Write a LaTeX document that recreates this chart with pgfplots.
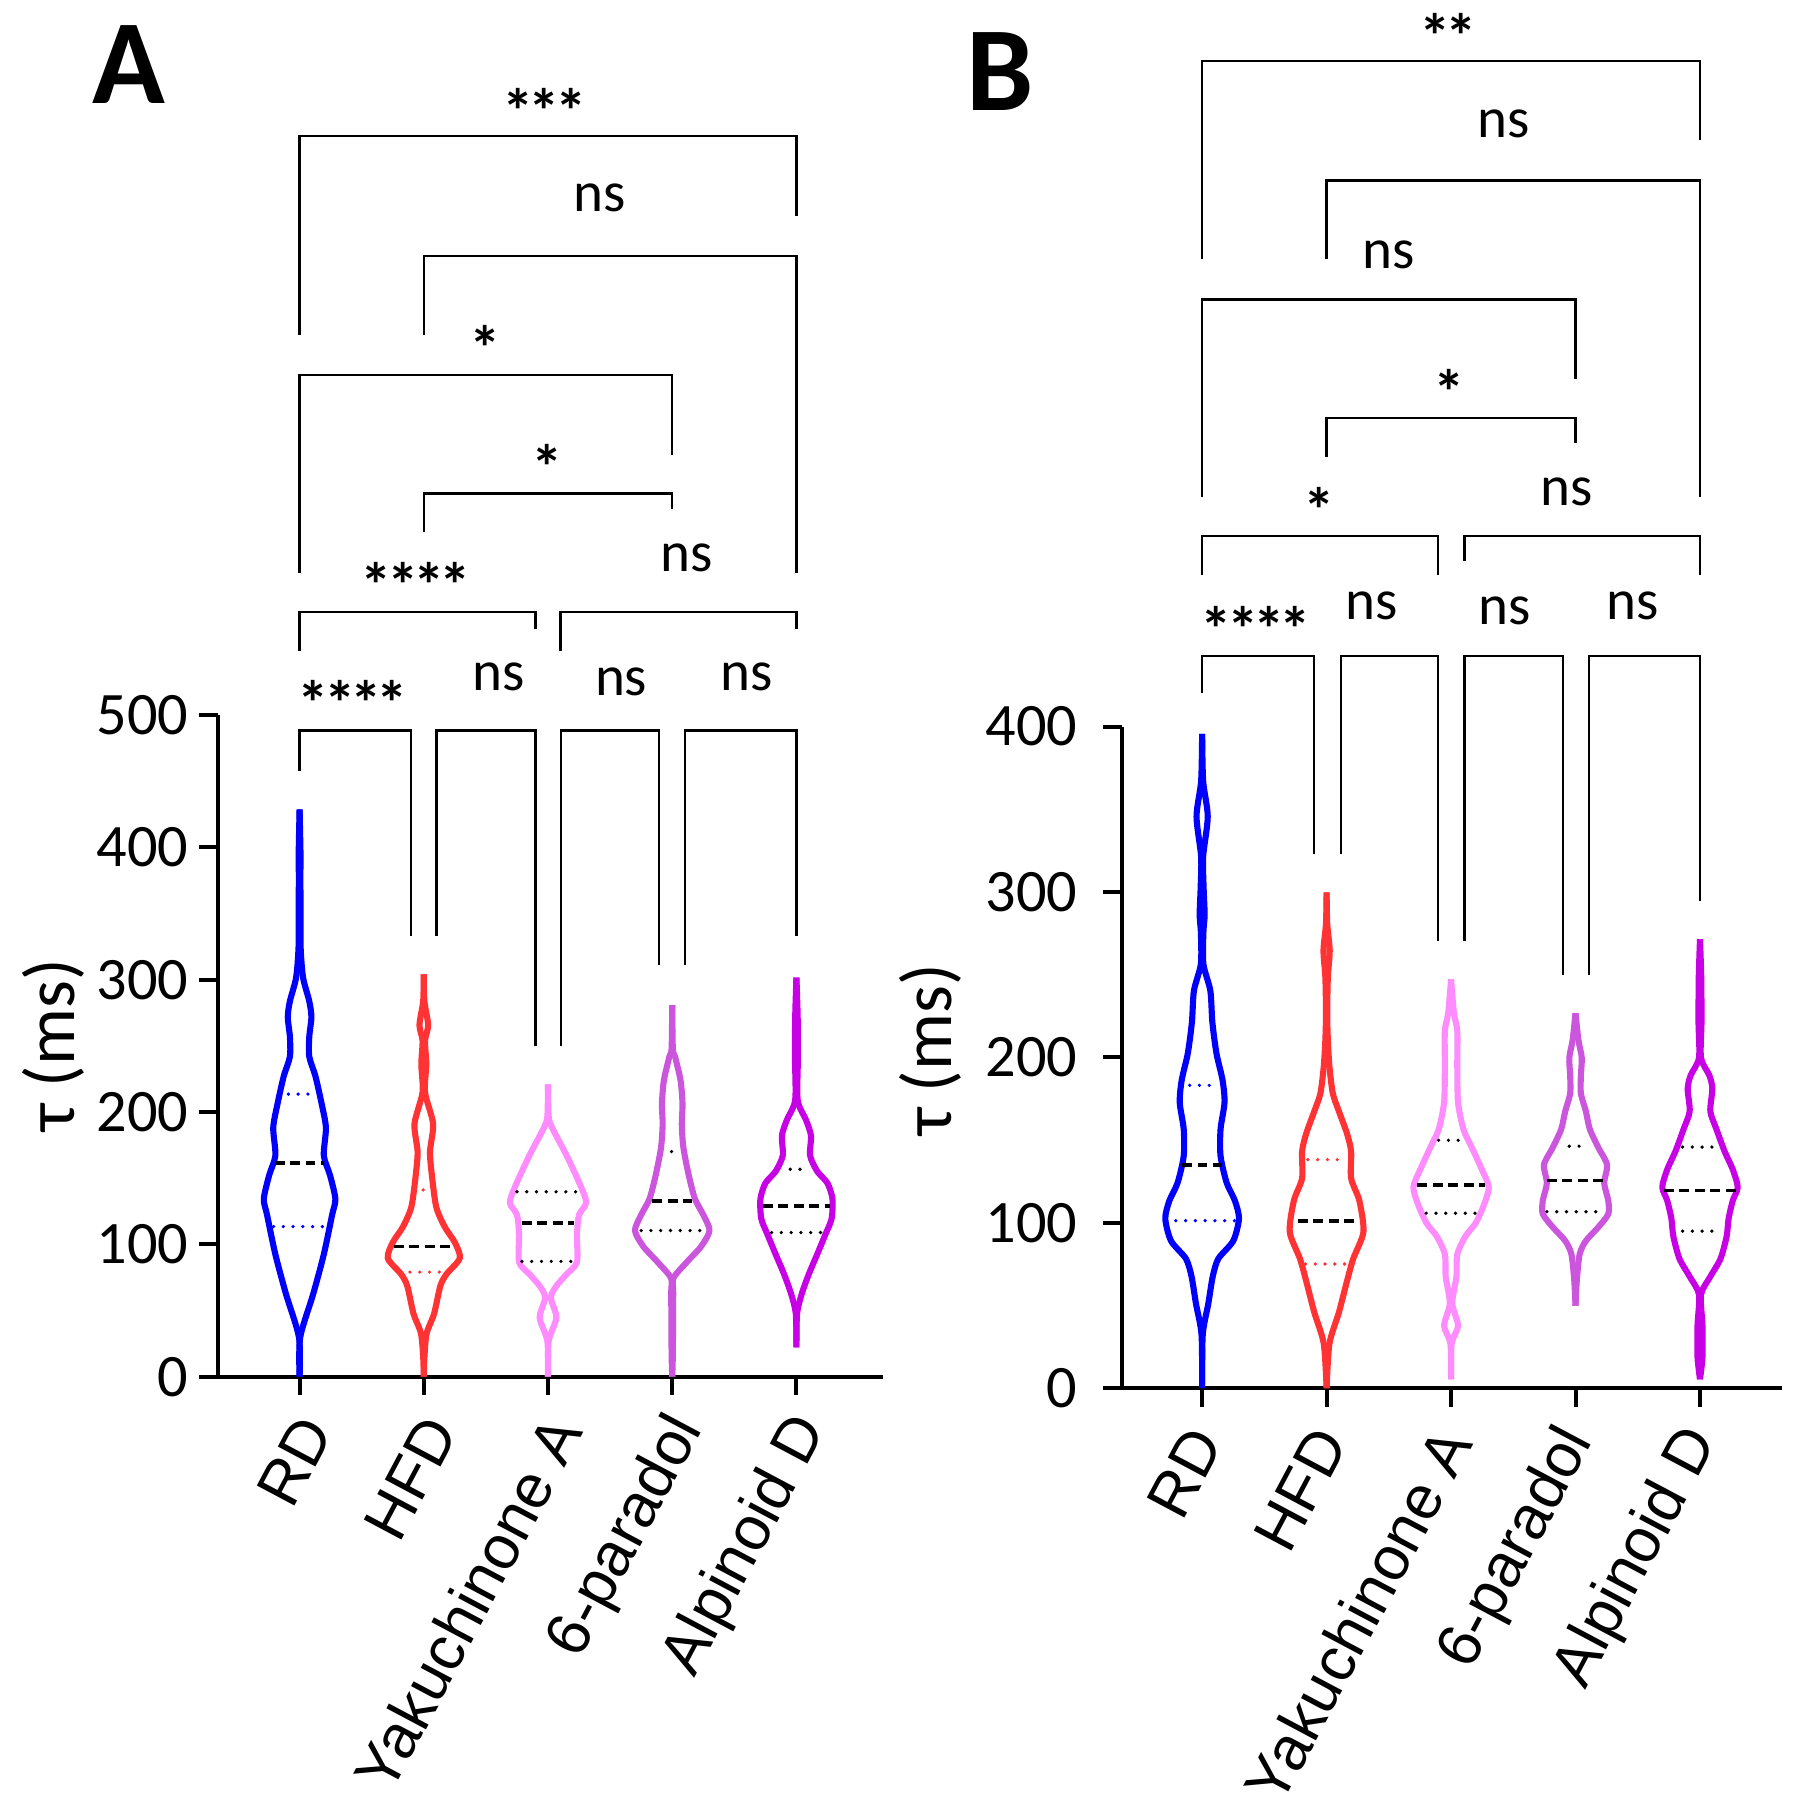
\documentclass[border=0pt]{standalone}
\usepackage{fontspec}
\setmainfont{Carlito}
\newfontfamily\arial{Liberation Sans}
\usepackage{pgfplots}
\usepackage{pgfplotstable}
\pgfplotsset{compat=1.18}
\definecolor{cRD}{RGB}{0,0,255}
\definecolor{cHFD}{RGB}{255,51,51}
\definecolor{cYak}{RGB}{255,140,255}
\definecolor{cPar}{RGB}{204,85,221}
\definecolor{cAlp}{RGB}{200,0,230}

% ---------- Panel A violins (y, half-width) ----------
\pgfplotstableread{
y w
0 0
29.7 0.005
62.6 0.11
92.4 0.195
122.3 0.262
134.3 0.288
152.2 0.245
167.1 0.195
188.1 0.212
206.0 0.178
226.9 0.128
241.8 0.078
256.8 0.078
271.7 0.095
283.7 0.078
301.6 0.028
325.5 0.008
361.4 0.008
376.3 0.005
391.2 0.008
428.6 0
}\RDA
\pgfplotstableread{
y w
0 0
14.8 0.005
32.7 0.023
47.6 0.083
68.5 0.133
77.5 0.183
89.5 0.29
101.4 0.25
113.4 0.167
128.3 0.10
152.2 0.065
170.1 0.05
191.0 0.075
214.9 0.01
235.9 0.02
253.8 0.01
265.7 0.035
283.7 0.005
304.0 0
}\HFDA
\pgfplotstableread{
y w
0 0
26.7 0.005
44.6 0.067
59.6 0.023
68.5 0.067
77.5 0.15
86.5 0.233
107.4 0.233
122.3 0.25
131.3 0.307
143.2 0.267
167.1 0.15
188.1 0.033
197.0 0.005
220.9 0
}\YakA
\pgfplotstableread{
y w
0 0
17.7 0.005
62.6 0.008
74.5 0.01
86.5 0.117
98.4 0.233
110.4 0.3
122.3 0.25
134.3 0.183
152.2 0.133
173.1 0.09
191.0 0.077
206.0 0.083
223.9 0.067
241.8 0.023
247.8 0.005
280.7 0
}\ParA
\pgfplotstableread{
y w
22.2 0
47.6 0.005
62.6 0.043
77.5 0.1
92.4 0.167
107.4 0.233
119.3 0.283
134.3 0.29
146.2 0.25
155.2 0.167
167.1 0.11
182.1 0.117
194.0 0.077
209.0 0.01
241.8 0.012
271.7 0.01
301.6 0
}\AlpA
% ---------- Panel B violins ----------
\pgfplotstableread{
y w
0 0
32.4 0.005
51.3 0.05
67.5 0.085
78.3 0.13
89.1 0.25
102.6 0.296
113.4 0.263
124.2 0.197
140.4 0.148
156.6 0.148
172.8 0.18
186.3 0.164
202.5 0.115
221.4 0.082
240.3 0.066
256.5 0.01
275.4 0.01
286.2 0.02
302.4 0.012
321.3 0.008
345.6 0.045
367.2 0.008
395.6 0
}\RDB
\pgfplotstableread{
y w
0 0
27.0 0.023
45.9 0.099
64.8 0.164
78.3 0.214
94.5 0.296
113.4 0.263
126.9 0.197
143.1 0.197
153.9 0.164
167.4 0.099
178.2 0.05
194.4 0.023
210.6 0.01
226.8 0.005
248.4 0.01
264.6 0.025
280.8 0.005
299.7 0
}\HFDB
\pgfplotstableread{
y w
5.4 0
27.0 0.005
37.8 0.056
51.3 0.01
67.5 0.043
81.0 0.05
91.8 0.115
99.9 0.198
110.7 0.263
121.5 0.303
132.3 0.247
145.8 0.165
156.6 0.099
172.8 0.056
194.4 0.05
216.0 0.05
226.8 0.023
247.2 0
}\YakB
\pgfplotstableread{
y w
49.9 0
64.8 0.01
81.0 0.033
89.1 0.083
97.2 0.181
105.3 0.263
113.4 0.263
124.2 0.23
135.0 0.254
145.8 0.181
156.6 0.115
167.4 0.083
178.2 0.043
189.0 0.043
199.8 0.05
210.6 0.023
226.8 0
}\ParB
\pgfplotstableread{
y w
5.4 0
18.9 0.02
37.8 0.02
56.7 0.008
67.5 0.083
78.3 0.165
91.8 0.214
102.6 0.23
113.4 0.263
121.5 0.303
132.3 0.263
143.1 0.198
156.6 0.132
167.4 0.083
180.9 0.099
189.0 0.076
199.8 0.008
221.4 0.012
248.4 0.01
271.4 0
}\AlpB

\newcommand{\violin}[3]{%
  \addplot[vio,#3] table[x expr=#1+\thisrow{w}, y=y]{#2};
  \addplot[vio,#3] table[x expr=#1-\thisrow{w}, y=y]{#2};
}
\newcommand{\labfont}{\fontsize{14}{16}\selectfont}
\newcommand{\sk}{\kern-0.08em}

\tikzset{lab/.style={font=\labfont, inner sep=0pt},
         ast/.style={font=\fontsize{15.5}{16}\selectfont\bfseries, inner sep=0pt}}
\pgfplotsset{
  vio/.style={line width=1.5pt, smooth, tension=0.45, line join=round, no markers},
  br/.style={black, line width=0.55pt, sharp plot, line join=miter, no markers},
  med/.style={black, line width=0.9pt, dash pattern=on 2.4pt off 1.4pt, no markers},
  qrt/.style={line width=0.9pt, line cap=round, dash pattern=on 0pt off 2.4pt, no markers},
  panel/.style={
    scale only axis, anchor=south west,
    ymin=0,
    axis x line*=bottom, axis y line*=left,
    axis line style={line width=1pt, -},
    xtick={0,1,2,3,4},
    xticklabels={RD,HFD,Yakuchinone A,6-paradol,Alpinoid D},
    tick align=outside, major tick length=0.16cm,
    tick style={line width=1pt, black},
    /pgf/number format/assume math mode=true,
    clip=false,
  },
}

\begin{document}
\begin{tikzpicture}
% ================= Panel A =================
\begin{axis}[panel,
  at={(1.88cm,3.80cm)}, width=5.74cm, height=5.71cm,
  xmin=-0.658, xmax=4.697, ymax=500, ytick={0,100,...,500},
  xticklabel style={font=\arial\fontsize{15.2}{16}\selectfont, xshift=0.2cm, yshift=-0.12cm, rotate=62, anchor=east},
  yticklabel style={font=\fontsize{14.8}{16}\selectfont, xshift=0.03cm}]
\violin{0}{\RDA}{cRD}
\violin{1}{\HFDA}{cHFD}
\violin{2}{\YakA}{cYak}
\violin{3}{\ParA}{cPar}
\violin{4}{\AlpA}{cAlp}
% quartiles
\addplot[med] coordinates {(-0.2,161.2) (0.2,161.2)};
\addplot[qrt,cRD] coordinates {(-0.09,213.5) (0.09,213.5)};
\addplot[qrt,cRD] coordinates {(-0.21,113.4) (0.21,113.4)};
\addplot[med] coordinates {(0.76,98.4) (1.24,98.4)};
\addplot[qrt,cHFD] coordinates {(0.81,79.0) (1.19,79.0)};
\addplot[qrt,cHFD] coordinates {(0.995,141.1) (1.005,141.1)};
\addplot[med] coordinates {(1.79,116.3) (2.21,116.3)};
\addplot[qrt,black] coordinates {(1.75,139.7) (2.25,139.7)};
\addplot[qrt,black] coordinates {(1.79,87.1) (2.21,87.1)};
\addplot[med] coordinates {(2.84,132.8) (3.16,132.8)};
\addplot[qrt,black] coordinates {(2.75,110.4) (3.25,110.4)};
\addplot[qrt,black] coordinates {(2.995,170.1) (3.005,170.1)};
\addplot[med] coordinates {(3.73,128.9) (4.27,128.9)};
\addplot[qrt,black] coordinates {(3.8,108.9) (4.2,108.9)};
\addplot[qrt,black] coordinates {(3.95,156.7) (4.05,156.7)};
% brackets
\addplot[br] coordinates {(0,458) (0,488.2) (0.9,488.2) (0.9,333)};
\addplot[br] coordinates {(1.103,333) (1.103,488.2) (1.9,488.2) (1.9,250)};
\addplot[br] coordinates {(2.103,250) (2.103,488.2) (2.895,488.2) (2.895,311)};
\addplot[br] coordinates {(3.1,311) (3.1,488.2) (4,488.2) (4,333)};
\addplot[br] coordinates {(0,548.4) (0,578) (1.9,578) (1.9,565)};
\addplot[br] coordinates {(2.1,548.4) (2.1,578) (4,578) (4,565)};
\addplot[br] coordinates {(1,637.9) (1,667.3) (3,667.3) (3,655.9)};
\addplot[br] coordinates {(0,607.4) (0,756.9) (3,756.9) (3,696.8)};
\addplot[br] coordinates {(1,787.3) (1,847.1) (4,847.1) (4,607.4)};
\addplot[br] coordinates {(0,787.3) (0,937.4) (4,937.4) (4,877.3)};
% labels
\node[ast] at (axis cs:1.973,956.3) {*\sk*\sk*};
\node[lab] at (axis cs:2.417,890.6) {ns};
\node[ast] at (axis cs:1.493,777.6) {*};
\node[ast] at (axis cs:1.992,687.4) {*};
\node[ast] at (axis cs:0.9375,598.1) {*\sk*\sk*\sk*};
\node[lab] at (axis cs:3.118,618.8) {ns};
\node[ast] at (axis cs:0.430,508.8) {*\sk*\sk*\sk*};
\node[lab] at (axis cs:1.600,528.9) {ns};
\node[lab] at (axis cs:2.589,525.0) {ns};
\node[lab] at (axis cs:3.596,528.9) {ns};
\end{axis}
% ================= Panel B =================
\begin{axis}[panel,
  at={(9.68cm,3.70cm)}, width=5.70cm, height=5.71cm,
  xmin=-0.646, xmax=4.661, ymax=400, ytick={0,100,...,400},
  xticklabel style={font=\arial\fontsize{15.2}{16}\selectfont, xshift=0.09cm, yshift=-0.12cm, rotate=62, anchor=east},
  yticklabel style={font=\fontsize{14.8}{16}\selectfont, xshift=-0.1cm}]
\violin{0}{\RDB}{cRD}
\violin{1}{\HFDB}{cHFD}
\violin{2}{\YakB}{cYak}
\violin{3}{\ParB}{cPar}
\violin{4}{\AlpB}{cAlp}
% quartiles
\addplot[med] coordinates {(-0.16,135.0) (0.16,135.0)};
\addplot[qrt,cRD] coordinates {(-0.1,183.1) (0.1,183.1)};
\addplot[qrt,cRD] coordinates {(-0.29,101.3) (0.29,101.3)};
\addplot[med] coordinates {(0.77,101.3) (1.23,101.3)};
\addplot[qrt,cHFD] coordinates {(0.85,138.2) (1.15,138.2)};
\addplot[qrt,cHFD] coordinates {(0.83,75.1) (1.17,75.1)};
\addplot[med] coordinates {(1.73,122.9) (2.27,122.9)};
\addplot[qrt,black] coordinates {(1.9,149.9) (2.1,149.9)};
\addplot[qrt,black] coordinates {(1.8,105.8) (2.2,105.8)};
\addplot[med] coordinates {(2.77,125.6) (3.23,125.6)};
\addplot[qrt,black] coordinates {(2.95,146.3) (3.05,146.3)};
\addplot[qrt,black] coordinates {(2.77,106.7) (3.23,106.7)};
\addplot[med] coordinates {(3.71,119.6) (4.29,119.6)};
\addplot[qrt,black] coordinates {(3.86,145.8) (4.14,145.8)};
\addplot[qrt,black] coordinates {(3.86,95.0) (4.14,95.0)};
% brackets
\addplot[br] coordinates {(0,420) (0,442.8) (0.898,442.8) (0.898,323.1)};
\addplot[br] coordinates {(1.116,323.1) (1.116,442.8) (1.898,442.8) (1.898,270.5)};
\addplot[br] coordinates {(2.107,270.5) (2.107,442.8) (2.898,442.8) (2.898,250)};
\addplot[br] coordinates {(3.106,250) (3.106,442.8) (4,442.8) (4,294.6)};
\addplot[br] coordinates {(0,491.8) (0,515) (1.898,515) (1.898,491.8)};
\addplot[br] coordinates {(2.107,500) (2.107,515) (4,515) (4,491.8)};
\addplot[br] coordinates {(1,563) (1,586.6) (3,586.6) (3,571.3)};
\addplot[br] coordinates {(0,538.9) (0,658.2) (3,658.2) (3,610.2)};
\addplot[br] coordinates {(1,682.4) (1,730.1) (4,730.1) (4,538.9)};
\addplot[br] coordinates {(0,682.4) (0,802.3) (4,802.3) (4,754.6)};
% labels
\node[ast] at (axis cs:1.979,817.6) {*\sk*};
\node[lab] at (axis cs:2.423,764.2) {ns};
\node[lab] at (axis cs:1.502,685.2) {ns};
\node[ast] at (axis cs:1.989,602.5) {*};
\node[ast] at (axis cs:0.944,531.2) {*};
\node[lab] at (axis cs:2.929,541.6) {ns};
\node[ast] at (axis cs:0.432,459.0) {*\sk*\sk*\sk*};
\node[lab] at (axis cs:1.362,472.8) {ns};
\node[lab] at (axis cs:2.432,470.0) {ns};
\node[lab] at (axis cs:3.456,472.8) {ns};
\end{axis}
% panel letters and y labels
\node[font=\fontsize{29.5}{30}\selectfont\bfseries, inner sep=0pt] at (1.115,15.125) {A};
\node[font=\fontsize{29.5}{30}\selectfont\bfseries, inner sep=0pt] at (8.63,15.06) {B};
\node[font=\fontsize{17.5}{18}\selectfont, rotate=90, inner sep=0pt] at (0.46,6.66) {τ (ms)};
\node[font=\fontsize{17.5}{18}\selectfont, rotate=90, inner sep=0pt] at (8.03,6.62) {τ (ms)};
\pgfresetboundingbox
\path[use as bounding box] (0,0) rectangle (15.60,15.68);
\end{tikzpicture}
\end{document}
